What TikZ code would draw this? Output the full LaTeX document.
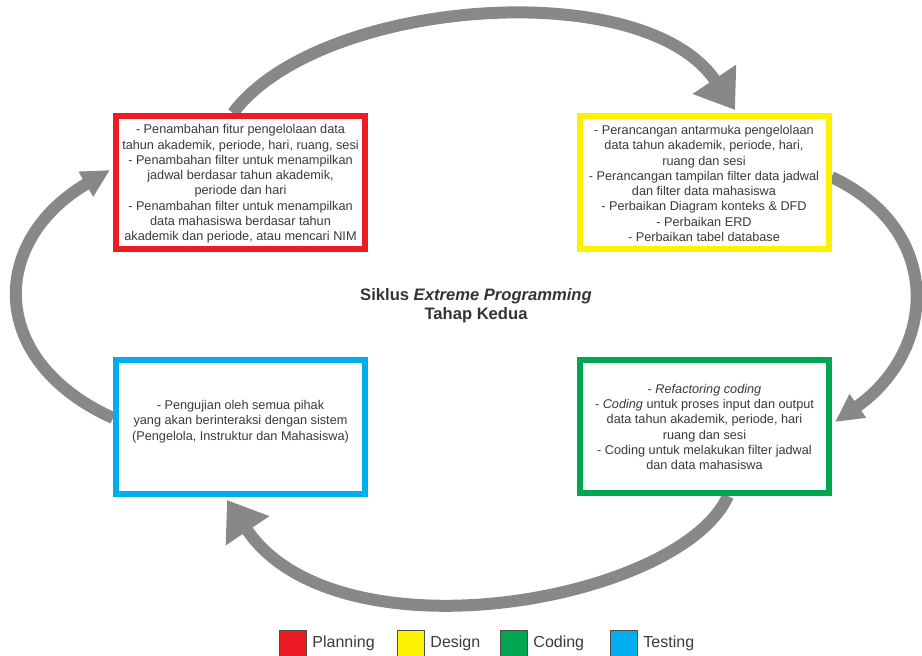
\documentclass[tikz,border=0pt]{standalone}
\usepackage{fontspec}
\setmainfont{Liberation Sans}
\usetikzlibrary{arrows.meta,calc}
\pgfdeclarelayer{background}
\pgfsetlayers{background,main}

\definecolor{planred}{HTML}{ED1C24}
\definecolor{designyellow}{HTML}{FFF200}
\definecolor{codegreen}{HTML}{00A651}
\definecolor{testblue}{HTML}{00AEEF}
\definecolor{flowgray}{HTML}{888888}
\definecolor{ink}{HTML}{3A3A3A}

\begin{document}
\begin{tikzpicture}[x=1pt,y=-1pt,
  phase/.style={draw=#1, line width=6pt, fill=white,
    minimum width=249pt, minimum height=133pt, inner sep=0pt},
  phasetext/.style={text=ink, align=center, inner sep=0pt,
    font=\fontsize{12.7}{15.3}\selectfont},
  cycle/.style={draw=flowgray, line width=12pt},
  bighead/.style={-{Triangle[width=50pt,length=37pt]}},
  smallhead/.style={-{Triangle[width=27pt,length=28pt]}},
  swatch/.style={fill=#1, draw=gray!60!black, line width=0.5pt,
    minimum width=27pt, minimum height=26pt, inner sep=0pt},
  legendtext/.style={text=ink, anchor=west, inner sep=0pt,
    font=\fontsize{16}{19}\selectfont}
]
\useasboundingbox (0,0) rectangle (922,656);

% the four phases of the cycle
\node[phase=planred] (plan) at (240.5,182.5) {};
\node[phase=designyellow] (design) at (704,182.5) {};
\node[phase=testblue, minimum height=134pt] (testing) at (240.5,427) {};
\node[phase=codegreen] (coding) at (704.5,426.5) {};

\node[phasetext] (plantxt) at ([yshift=-1.5pt]plan.center) {%
- Penambahan fitur pengelolaan data\\
tahun akademik, periode, hari, ruang, sesi\\
- Penambahan filter untuk menampilkan\\
jadwal berdasar tahun akademik,\\
periode dan hari\\
- Penambahan filter untuk menampilkan\\
data mahasiswa berdasar tahun\\
akademik dan periode, atau mencari NIM};

\node[phasetext] (designtxt) at ([yshift=-1pt]design.center) {%
- Perancangan antarmuka pengelolaan\\
data tahun akademik, periode, hari,\\
ruang dan sesi\\
- Perancangan tampilan filter data jadwal\\
dan filter data mahasiswa\\
- Perbaikan Diagram konteks \& DFD\\
- Perbaikan ERD\\
- Perbaikan tabel database};

\node[phasetext] (testingtxt) at ([yshift=5.5pt]testing.center) {%
- Pengujian oleh semua pihak\\
yang akan berinteraksi dengan sistem\\
(Pengelola, Instruktur dan Mahasiswa)};

\node[phasetext] (codingtxt) at ([yshift=-0.5pt]coding.center) {%
- \textit{Refactoring coding}\\
- \textit{Coding} untuk proses input dan output\\
data tahun akademik, periode, hari\\
ruang dan sesi\\
- Coding untuk melakukan filter jadwal\\
dan data mahasiswa};

% title in the middle of the cycle
\node[text=ink!90!black, align=center, font=\fontsize{16.6}{19}\selectfont\bfseries]
  (title) at (476,306) {Siklus \textit{Extreme Programming}\\Tahap Kedua};

% arrows joining the phases, kept behind the boxes
\begin{pgfonlayer}{background}
\draw[cycle, bighead] ([xshift=-7.5pt]plan.north)
  .. controls +(85,-114) and +(-92,-137) .. ([xshift=31pt,yshift=3pt]design.north);
\draw[cycle, smallhead] ([yshift=5.5pt]design.east)
  .. controls +(114,54) and +(101,-71) .. ([xshift=3pt,yshift=4.5pt]coding.east);
\draw[cycle, bighead] ([xshift=23.5pt]coding.south)
  .. controls +(-48,106) and +(109,163) .. ([xshift=-13.5pt,yshift=-3pt]testing.south);
\draw[cycle, smallhead] ([yshift=9pt]testing.west)
  .. controls +(-126,-57) and +(-121,71) .. ([xshift=-3pt,yshift=12.5pt]plan.west);
\end{pgfonlayer}

% legend
\node[swatch=planred] (keyplan) at (292.5,643) {};
\node[swatch=designyellow] (keydesign) at (410.5,643) {};
\node[swatch=codegreen] (keycoding) at (513.5,643) {};
\node[swatch=testblue] (keytesting) at (623.5,643) {};
\node[legendtext] (keyplantxt) at ([xshift=6pt]keyplan.east) {Planning};
\node[legendtext] (keydesigntxt) at ([xshift=6pt]keydesign.east) {Design};
\node[legendtext] (keycodingtxt) at ([xshift=6pt]keycoding.east) {Coding};
\node[legendtext] (keytestingtxt) at ([xshift=6pt]keytesting.east) {Testing};
\end{tikzpicture}
\end{document}
